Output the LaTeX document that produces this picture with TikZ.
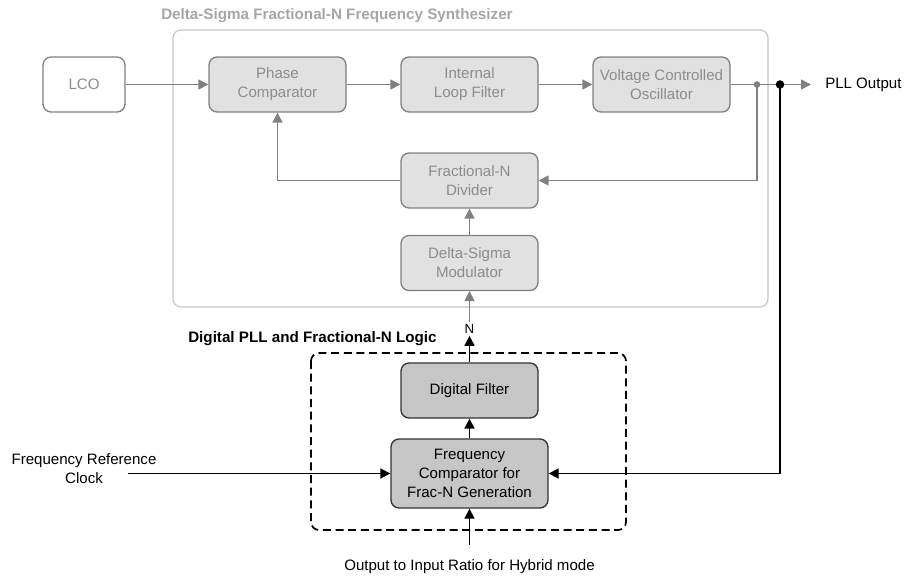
\documentclass[tikz,border=0pt]{standalone}
\usepackage{fontspec}
\setmainfont{Liberation Sans}
\usetikzlibrary{arrows.meta}
\definecolor{boxgray}{HTML}{E1E1E1}
\definecolor{linegray}{HTML}{808080}
\definecolor{textgray}{HTML}{8C8C8C}
\definecolor{titlegray}{HTML}{A6A6A6}
\definecolor{framegray}{HTML}{C8C8C8}
\definecolor{logicgray}{HTML}{C6C6C6}
\definecolor{logicline}{HTML}{333333}

\begin{document}
\begin{tikzpicture}[x=0.75pt,y=-0.75pt]
    \tikzstyle{every node}=[font=\fontsize{11.3}{14.25}\selectfont]
    \tikzstyle{synth}=[rectangle,rounded corners=6pt,draw=linegray,fill=boxgray,text=textgray,line width=1pt,align=center,minimum width=102.75pt,minimum height=41.25pt,inner sep=1pt]
    \tikzstyle{logic}=[synth,draw=logicline,fill=logicgray,text=black]
    \tikzstyle{heading}=[anchor=west,inner sep=0pt,font=\fontsize{11.4}{13}\selectfont\bfseries]
    \tikzstyle{garrow}=[draw=linegray,line width=1.1pt,-{Triangle[length=7.5pt,width=7.5pt]}]
    \tikzstyle{barrow}=[draw=black,line width=1.3pt,-{Triangle[length=7.5pt,width=7.5pt]}]
    \useasboundingbox (0,0) rectangle (908,579);
    % synthesizer block
    \draw[framegray,rounded corners=6pt,line width=0.9pt] (173,30) rectangle (768,307);
    \node[heading,text=titlegray] (synthtitle) at (161,16) {Delta-Sigma Fractional-N Frequency Synthesizer};
    \node[synth,fill=white,minimum width=61.5pt] (lco) at (84,84.5) {LCO};
    \node[synth] (phase) at (277.5,84.5) {Phase\\Comparator};
    \node[synth] (loop) at (469.5,84.5) {Internal\\Loop Filter};
    \node[synth] (vco) at (661.5,84.5) {Voltage Controlled\\Oscillator};
    \node[synth] (divider) at (469.5,180.5) {Fractional-N\\Divider};
    \node[synth] (dsm) at (469.5,263) {Delta-Sigma\\Modulator};
    \coordinate (tap) at (757,84.5);
    \coordinate (split) at (780,84.5);
    \coordinate (outend) at (811,84.5);
    \node[anchor=west,inner sep=0pt] (pllout) at (825,84.5) {PLL Output};
    \draw[garrow] (lco) -- (phase);
    \draw[garrow] (phase) -- (loop);
    \draw[garrow] (loop) -- (vco);
    \draw[garrow] (vco.east) -- (tap) -- (split) -- (outend);
    \draw[garrow] (tap) |- (divider.east);
    \draw[garrow] (divider.west) -| (phase.south);
    \draw[garrow] (dsm) -- (divider);
    % digital logic
    \draw[black,dash pattern=on 6pt off 3.5pt,rounded corners=6pt,line width=1.3pt] (311,353) rectangle (626,530);
    \node[heading] (logictitle) at (188,339) {Digital PLL and Fractional-N Logic};
    \node[logic] (filter) at (469.5,390.5) {Digital Filter};
    \node[logic,minimum width=117.75pt,minimum height=51.75pt] (fcomp) at (469.5,473.5) {Frequency\\Comparator for\\Frac-N Generation};
    \node[inner sep=1.5pt,font=\fontsize{10}{11}\selectfont] (nlabel) at (469.5,329) {N};
    \draw[barrow] (filter) -- (nlabel);
    \draw[garrow] (nlabel) -- (dsm);
    \draw[barrow] (fcomp) -- (filter);
    \node[align=center] (refclk) at (84,469) {Frequency Reference\\Clock};
    \coordinate (refin) at (128,473.5);
    \draw[barrow] (refin) -- (fcomp.west);
    \draw[barrow] (split) |- (fcomp.east);
    \coordinate (ratioin) at (469.5,545);
    \draw[barrow] (ratioin) -- (fcomp.south);
    \node (ratio) at (469.5,567) {Output to Input Ratio for Hybrid mode};
    \fill[linegray] (tap) circle (2.5pt);
    \fill[black] (split) circle (3.2pt);
\end{tikzpicture}
\end{document}
